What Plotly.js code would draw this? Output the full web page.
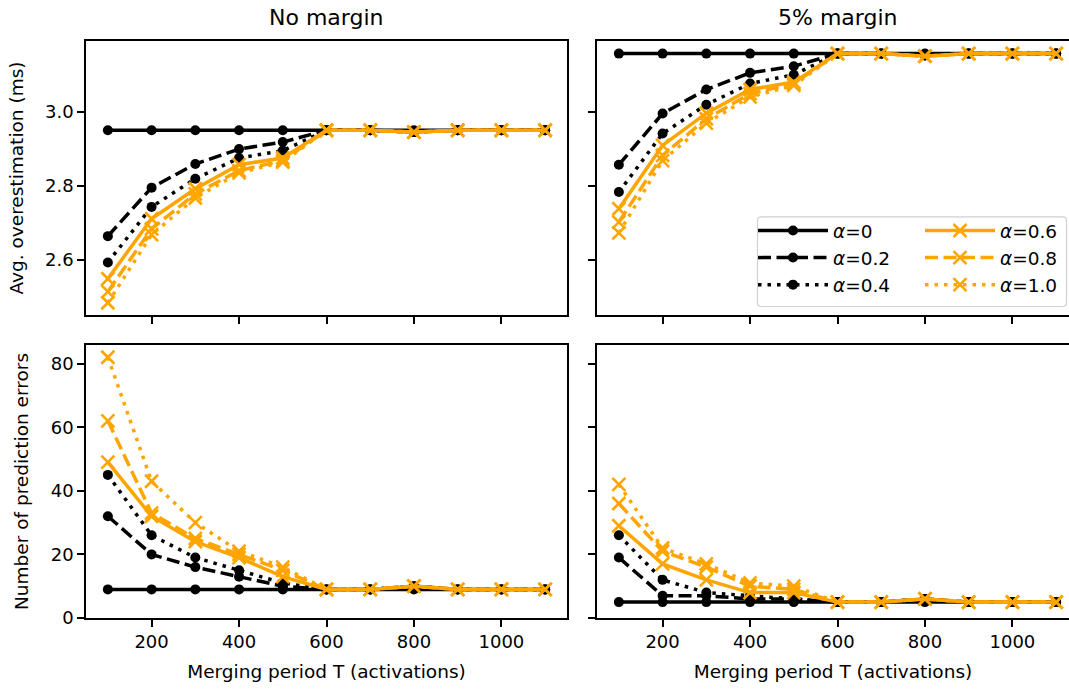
<!DOCTYPE html>
<html>
<head>
<meta charset="utf-8">
<script src="https://cdn.plot.ly/plotly-3.0.1.min.js"></script>
<style>
  html, body { margin: 0; padding: 0; overflow: hidden; background: #fff; }
  #chart { width: 1069px; height: 689px; }
</style>
</head>
<body>
<div id="chart"></div>
<script>
// ---------------- data ----------------
const periods = [100, 200, 300, 400, 500, 600, 700, 800, 900, 1000, 1100];
const alphaLabels = ['0', '0.2', '0.4', '0.6', '0.8', '1.0'];

// Avg. overestimation (ms), no margin
const overNo_a00 = [2.95, 2.95, 2.95, 2.95, 2.95, 2.95, 2.95, 2.95, 2.95, 2.95, 2.95];
const overNo_a02 = [2.664, 2.795, 2.859, 2.899, 2.918, 2.95, 2.95, 2.945, 2.95, 2.95, 2.95];
const overNo_a04 = [2.593, 2.743, 2.819, 2.875, 2.895, 2.95, 2.95, 2.945, 2.95, 2.95, 2.95];
const overNo_a06 = [2.549, 2.711, 2.792, 2.857, 2.875, 2.95, 2.95, 2.945, 2.95, 2.95, 2.95];
const overNo_a08 = [2.514, 2.684, 2.778, 2.841, 2.868, 2.95, 2.95, 2.945, 2.95, 2.95, 2.95];
const overNo_a10 = [2.484, 2.668, 2.767, 2.835, 2.864, 2.95, 2.95, 2.945, 2.95, 2.95, 2.95];

// Avg. overestimation (ms), 5% margin
const over5_a00 = [3.157, 3.157, 3.157, 3.157, 3.157, 3.157, 3.157, 3.157, 3.157, 3.157, 3.157];
const over5_a02 = [2.857, 2.995, 3.060, 3.105, 3.123, 3.157, 3.157, 3.152, 3.157, 3.157, 3.157];
const over5_a04 = [2.783, 2.941, 3.019, 3.076, 3.100, 3.157, 3.157, 3.152, 3.157, 3.157, 3.157];
const over5_a06 = [2.738, 2.909, 2.996, 3.060, 3.080, 3.157, 3.157, 3.150, 3.157, 3.157, 3.157];
const over5_a08 = [2.702, 2.882, 2.981, 3.049, 3.076, 3.157, 3.157, 3.150, 3.157, 3.157, 3.157];
const over5_a10 = [2.673, 2.868, 2.969, 3.040, 3.071, 3.157, 3.157, 3.150, 3.157, 3.157, 3.157];

// Number of prediction errors, no margin
const errNo_a00 = [9, 9, 9, 9, 9, 9, 9, 9, 9, 9, 9];
const errNo_a02 = [32, 20, 16, 13, 10, 9, 9, 10, 9, 9, 9];
const errNo_a04 = [45, 26, 19, 15, 11, 9, 9, 10, 9, 9, 9];
const errNo_a06 = [49, 32, 24, 19, 13, 9, 9, 10, 9, 9, 9];
const errNo_a08 = [62, 33, 25, 20, 15, 9, 9, 10, 9, 9, 9];
const errNo_a10 = [82, 43, 30, 21, 16, 9, 9, 10, 9, 9, 9];

// Number of prediction errors, 5% margin
const err5_a00 = [5, 5, 5, 5, 5, 5, 5, 5, 5, 5, 5];
const err5_a02 = [19, 7, 7, 6, 6, 5, 5, 6, 5, 5, 5];
const err5_a04 = [26, 12, 8, 7, 6, 5, 5, 6, 5, 5, 5];
const err5_a06 = [29, 17, 12, 8, 8, 5, 5, 6, 5, 5, 5];
const err5_a08 = [36, 21, 16, 10, 9, 5, 5, 6, 5, 5, 5];
const err5_a10 = [42, 22, 17, 11, 10, 5, 5, 6, 5, 5, 5];

const xTicks = [200, 400, 600, 800, 1000];
const yTicksOver = [2.6, 2.8, 3.0];
const yTicksErr = [0, 20, 40, 60, 80];

// ---------------- styling ----------------
const FONT = 'DejaVu Sans, Liberation Sans, sans-serif';
const ORANGE = '#FFA500';
const BLACK = '#000000';
const LW = 3.5;
const dashes = ['solid', '13px,5.5px', '3.5px,6px'];

function styleFor(i) {
  const isOrange = i >= 3;
  const color = isOrange ? ORANGE : BLACK;
  return {
    line: { color: color, width: LW, dash: dashes[i % 3] },
    marker: isOrange
      ? { symbol: 'x-thin', size: 13, color: color, line: { color: color, width: 2.6 } }
      : { symbol: 'circle', size: 10, color: color, line: { width: 0 } },
    legend: isOrange ? 'legend2' : 'legend'
  };
}

const panels = [
  { xa: 'x3', ya: 'y3', series: [overNo_a00, overNo_a02, overNo_a04, overNo_a06, overNo_a08, overNo_a10], legend: false },
  { xa: 'x4', ya: 'y4', series: [over5_a00, over5_a02, over5_a04, over5_a06, over5_a08, over5_a10], legend: true },
  { xa: 'x',  ya: 'y',  series: [errNo_a00, errNo_a02, errNo_a04, errNo_a06, errNo_a08, errNo_a10], legend: false },
  { xa: 'x2', ya: 'y2', series: [err5_a00, err5_a02, err5_a04, err5_a06, err5_a08, err5_a10], legend: false }
];

const traces = [];
panels.forEach(p => {
  p.series.forEach((vals, i) => {
    const s = styleFor(i);
    traces.push({
      type: 'scatter', mode: 'lines+markers',
      x: periods, y: vals, xaxis: p.xa, yaxis: p.ya,
      name: '<i>α</i>=' + alphaLabels[i],
      line: s.line, marker: s.marker,
      showlegend: p.legend, legend: s.legend,
      cliponaxis: false
    });
  });
});

// ---------------- layout ----------------
const W = 1069, H = 689;
const M = { l: 86, r: 0, t: 41, b: 71 };
const PW = W - M.l - M.r;   // 983
const PH = H - M.t - M.b;   // 577
const px2x = px => (px - M.l) / PW;
const px2y = py => (H - M.b - py) / PH;

const xLeftDom = [0, px2x(567)];
const xRightDom = [px2x(597), 1];
const yTopDom = [px2y(315), 1];
const yBotDom = [0, px2y(345)];

// the right-hand panels run past the picture edge (as in the original figure)
const xRangeLeft = [50, 1150];
const pxPerUnit = (567 - 86) / (xRangeLeft[1] - xRangeLeft[0]);
const xRangeRight = [50, 50 + (W - 597) / pxPerUnit];

const tickFont = { family: FONT, size: 18, color: '#000' };
const titleFont = { family: FONT, size: 18.5, color: '#000' };
function xAxis(dom, anchor, range, showLabels) {
  const a = {
    domain: dom, anchor: anchor, range: range,
    tickmode: 'array', tickvals: xTicks, ticktext: xTicks.map(String),
    showticklabels: showLabels,
    ticks: 'outside', ticklen: 7, tickwidth: 1.5, tickcolor: '#000',
    showline: true, linewidth: 1.5, linecolor: '#000', mirror: true,
    showgrid: false, zeroline: false, tickfont: tickFont
  };
  if (showLabels) a.title = { text: 'Merging period T (activations)', font: titleFont, standoff: 14 };
  return a;
}
function yAxis(dom, anchor, range, tickvals, title, showLabels, mirror) {
  const a = {
    domain: dom, anchor: anchor, range: range,
    tickmode: 'array', tickvals: tickvals, ticktext: tickvals.map(v => (range[1] < 10 ? v.toFixed(1) : String(v))),
    showticklabels: showLabels,
    ticks: 'outside', ticklen: 7, tickwidth: 1.5, tickcolor: '#000',
    showline: true, linewidth: 1.5, linecolor: '#000', mirror: mirror,
    showgrid: false, zeroline: false, tickfont: tickFont
  };
  if (title) a.title = { text: title, font: titleFont, standoff: 17 };
  return a;
}

const overRange = [2.451, 3.191];
const errRange = [0, 85.85];

// legend frame (matplotlib style rounded box)
const fx0 = px2x(757.5), fx1 = px2x(1066.5), fy0 = px2y(306.5), fy1 = px2y(216.8);
const rx = 4 / PW, ry = 4 / PH;
const framePath = `M${fx0 + rx},${fy0} L${fx1 - rx},${fy0} Q${fx1},${fy0} ${fx1},${fy0 + ry} ` +
  `L${fx1},${fy1 - ry} Q${fx1},${fy1} ${fx1 - rx},${fy1} L${fx0 + rx},${fy1} Q${fx0},${fy1} ${fx0},${fy1 - ry} ` +
  `L${fx0},${fy0 + ry} Q${fx0},${fy0} ${fx0 + rx},${fy0} Z`;

const legendCommon = {
  bgcolor: 'rgba(0,0,0,0)', borderwidth: 0,
  font: { family: FONT, size: 18.5, color: '#000' },
  itemwidth: 70, xanchor: 'left', yanchor: 'top',
  itemclick: false, itemdoubleclick: false, tracegroupgap: 0
};

const layout = {
  width: W, height: H, margin: M,
  paper_bgcolor: '#fff', plot_bgcolor: '#fff',
  font: { family: FONT, size: 18, color: '#000' },
  xaxis: xAxis(xLeftDom, 'y', xRangeLeft, true),
  xaxis2: xAxis(xRightDom, 'y2', xRangeRight, true),
  xaxis3: xAxis(xLeftDom, 'y3', xRangeLeft, false),
  xaxis4: xAxis(xRightDom, 'y4', xRangeRight, false),
  yaxis: yAxis(yBotDom, 'x', errRange, yTicksErr, 'Number of prediction errors', true, true),
  yaxis2: yAxis(yBotDom, 'x2', errRange, yTicksErr, null, false, false),
  yaxis3: yAxis(yTopDom, 'x3', overRange, yTicksOver, 'Avg. overestimation (ms)', true, true),
  yaxis4: yAxis(yTopDom, 'x4', overRange, yTicksOver, null, false, false),
  showlegend: true,
  legend: Object.assign({}, legendCommon, { x: px2x(753), y: px2y(212) }),
  legend2: Object.assign({}, legendCommon, { x: px2x(920), y: px2y(212) }),
  shapes: [{
    type: 'path', xref: 'paper', yref: 'paper', path: framePath, layer: 'above',
    fillcolor: 'rgba(255,255,255,0.8)', line: { color: '#d0d0d0', width: 1.2 }
  }],
  annotations: [
    { text: 'No margin', xref: 'paper', yref: 'paper', x: (xLeftDom[0] + xLeftDom[1]) / 2, y: px2y(18),
      xanchor: 'center', yanchor: 'middle', showarrow: false, font: { family: FONT, size: 22, color: '#000' } },
    { text: '5% margin', xref: 'paper', yref: 'paper', x: px2x((597 + 1078) / 2), y: px2y(18),
      xanchor: 'center', yanchor: 'middle', showarrow: false, font: { family: FONT, size: 22, color: '#000' } }
  ]
};

Plotly.newPlot('chart', traces, layout, { displayModeBar: false, responsive: false });
</script>
</body>
</html>
